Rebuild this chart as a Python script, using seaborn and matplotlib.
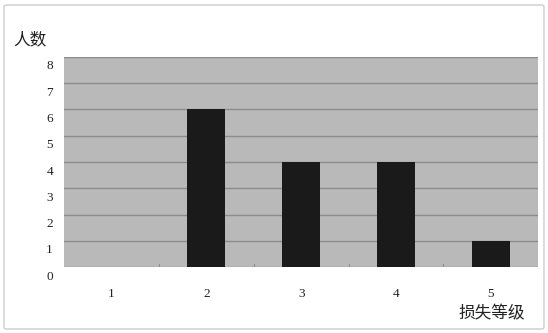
import matplotlib
matplotlib.use("Agg")
import matplotlib.pyplot as plt
import matplotlib.transforms as mtransforms
from matplotlib.patches import FancyBboxPatch
import seaborn as sns
import pandas as pd

categories = ["1", "2", "3", "4", "5"]
values = [0, 6, 4, 4, 1]
y_ticks = [0, 1, 2, 3, 4, 5, 6, 7, 8]
x_title = "损失等级"
y_title = "人数"

sns.set_theme(style="white")
plt.rcParams['font.family'] = ['Liberation Serif', 'Noto Sans CJK SC']

df = pd.DataFrame({"level": categories, "count": values})

fig = plt.figure(figsize=(5.48, 3.33), dpi=100)
ax = fig.add_axes([0.117, 0.198, 0.865, 0.631])
ax.set_facecolor("#b9b9b9")

sns.barplot(data=df, x="level", y="count", color="#1a1a1a", width=0.4,
            saturation=1, ax=ax, zorder=3, edgecolor="none", linewidth=0)

ax.set_ylim(0, 8)
ax.set_yticks(y_ticks)
ax.set_xlim(-0.5, 4.5)
ax.yaxis.grid(True, color="#8c8c8c", linewidth=1.0, zorder=1)
ax.set_axisbelow(True)
for s in ax.spines.values():
    s.set_visible(False)

ax.set_xlabel("")
ax.set_ylabel("")
ax.tick_params(axis="y", length=0, labelsize=9.5, colors="#222222", pad=8)
ax.tick_params(axis="x", length=0, labelsize=9.5, colors="#222222", pad=15)
offset = mtransforms.ScaledTranslation(0, -8 / 100, fig.dpi_scale_trans)
for lab in ax.get_yticklabels():
    lab.set_transform(lab.get_transform() + offset)

# small category boundary ticks at the bottom
for b in [0.5, 1.5, 2.5, 3.5]:
    ax.plot([b, b], [0, 0.12], color="#8c8c8c", linewidth=0.8, zorder=2)

fig.text(13 / 548, 1 - 40 / 333, y_title, fontsize=12, va="center", ha="left",
         family=['Noto Sans CJK SC'], color="#222222")
fig.text(492 / 548, 1 - 314 / 333, x_title, fontsize=12, va="center", ha="center",
         family=['Noto Sans CJK SC'], color="#222222")

border = FancyBboxPatch((4 / 548, 4 / 333), 540 / 548, 324 / 333,
                        boxstyle="round,pad=0,rounding_size=0.005",
                        transform=fig.transFigure, fill=False,
                        edgecolor="#cccccc", linewidth=1.0)
fig.patches.append(border)

fig.savefig("out.png", dpi=100)
